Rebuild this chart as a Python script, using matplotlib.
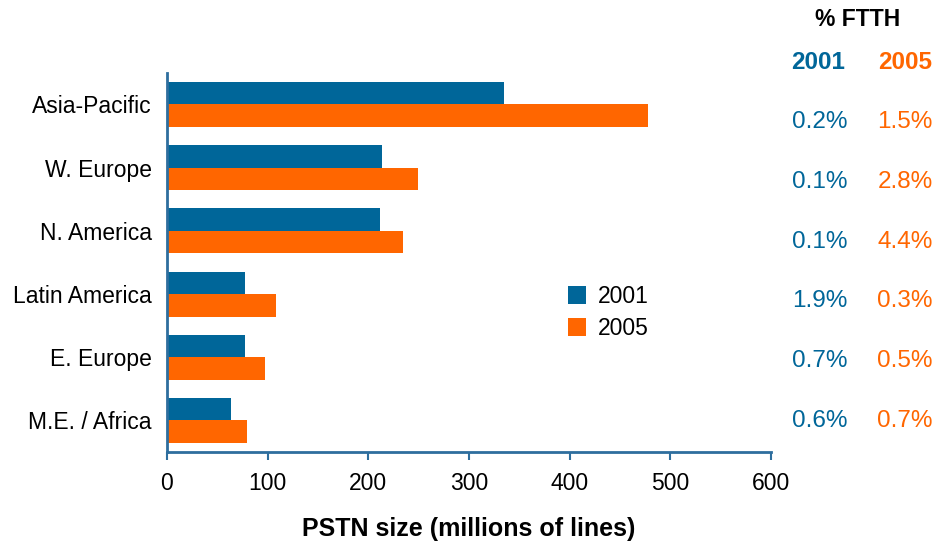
import matplotlib

matplotlib.use("Agg")
import matplotlib.pyplot as plt
import numpy as np

plt.rcParams["font.family"] = ["Liberation Sans", "DejaVu Sans"]

regions = ["Asia-Pacific", "W. Europe", "N. America", "Latin America", "E. Europe", "M.E. / Africa"]
pstn_2001 = [335, 214, 212, 78, 78, 64]
pstn_2005 = [478, 249, 235, 108, 98, 80]
ftth_2001 = ["0.2%", "0.1%", "0.1%", "1.9%", "0.7%", "0.6%"]
ftth_2005 = ["1.5%", "2.8%", "4.4%", "0.3%", "0.5%", "0.7%"]
years = ["2001", "2005"]

BLUE = "#006699"
ORANGE = "#ff6600"
AXIS = "#2e6e9e"

fig = plt.figure(figsize=(9.37, 5.44), dpi=100)
ax = fig.add_axes([0.178, 0.169, 0.645, 0.697])

y = np.arange(len(regions))
h = 0.355
ax.barh(y - h / 2, pstn_2001, height=h, color=BLUE, label=years[0])
ax.barh(y + h / 2, pstn_2005, height=h, color=ORANGE, label=years[1])

ax.set_ylim(len(regions) - 0.5, -0.5)
ax.set_xlim(0, 600)
ax.set_xticks(range(0, 601, 100))
ax.set_yticks(y, regions)
ax.tick_params(axis="y", length=0, pad=11, labelsize=16.5)
ax.tick_params(axis="x", length=6, width=1.5, color=AXIS, pad=8, labelsize=16.5)
for side in ("top", "right"):
    ax.spines[side].set_visible(False)
for side in ("left", "bottom"):
    ax.spines[side].set_color(AXIS)
    ax.spines[side].set_linewidth(2)

ax.set_xlabel("PSTN size (millions of lines)", fontsize=18, fontweight="bold", labelpad=16)

leg = ax.legend(loc="upper left", bbox_to_anchor=(0.63, 0.495), frameon=False,
                fontsize=16.5, handlelength=0.8, handleheight=0.8, handletextpad=0.5,
                labelspacing=0.4)

# % FTTH columns on the right
fig.text(0.915, 0.965, "% FTTH", ha="center", va="center", fontsize=16.5, fontweight="bold")
fig.text(0.873, 0.886, years[0], ha="center", va="center", fontsize=17.5, fontweight="bold", color=BLUE)
fig.text(0.966, 0.886, years[1], ha="center", va="center", fontsize=17.5, fontweight="bold", color=ORANGE)
row_y = np.linspace(1 - 122 / 544, 1 - 421 / 544, len(regions))
for yy, a, b in zip(row_y, ftth_2001, ftth_2005):
    fig.text(0.875, yy, a, ha="center", va="center", fontsize=17.5, color=BLUE)
    fig.text(0.966, yy, b, ha="center", va="center", fontsize=17.5, color=ORANGE)

fig.savefig("out.png", dpi=100)
